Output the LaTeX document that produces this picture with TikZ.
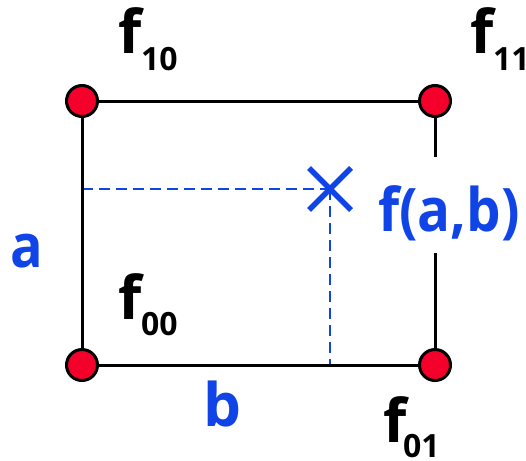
\documentclass[tikz,border=0pt]{standalone}
\usepackage{fontspec}
\setmainfont{Open Sans}
\usetikzlibrary{calc}
\definecolor{ptblue}{RGB}{16,68,230}
\definecolor{ptred}{RGB}{245,0,42}
\begin{document}
\begin{tikzpicture}[x=1pt,y=-1pt,
  corner/.style={circle,draw=black,fill=ptred,line width=3pt,minimum size=31pt,inner sep=0pt},
  edge/.style={line width=3pt,black},
  guide/.style={ptblue,line width=2.4pt,dash pattern=on 11pt off 6pt},
  big/.style={anchor=base west,inner sep=0pt,font=\fontsize{60}{60}\selectfont\bfseries},
  sub/.style={anchor=base west,inner sep=0pt,font=\fontsize{32}{32}\selectfont\bfseries},
  bluelab/.style={big,text=ptblue}]
\useasboundingbox (0,0) rectangle (526,460);
\coordinate (pt) at (330,189);
\coordinate (gapT) at (435,157);
\coordinate (gapB) at (435,253);
% dashed guides
\draw[guide] (82,189) -- (pt);
\draw[guide] (pt) -- (330,365);
% corners
\node[corner] (c10) at (82,101) {};
\node[corner] (c11) at (435,101) {};
\node[corner] (c00) at (82,365) {};
\node[corner] (c01) at (435,365) {};
% edges
\draw[edge] (c10) -- (c11);
\draw[edge] (c10) -- (c00);
\draw[edge] (c00) -- (c01);
\draw[edge] (c11) -- (gapT);
\draw[edge] (gapB) -- (c01);
% cross
\draw[ptblue,line width=5.5pt] ($(pt)+(-21,-21)$) -- ($(pt)+(21,21)$);
\draw[ptblue,line width=5.5pt] ($(pt)+(-21,21)$) -- ($(pt)+(21,-21)$);
% labels
\node[big] (f10) at (118,53) {f};
\node[sub] (s10) at (141,70) {10};
\node[big] (f11) at (470,53) {f};
\node[sub] (s11) at (493,70) {11};
\node[big] (f00) at (118,319) {f};
\node[sub] (s00) at (141,335) {00};
\node[big] (f01) at (383,442) {f};
\node[sub] (s01) at (403,457) {01};
\node[bluelab] (fab) at (378,231) {\scalebox{0.91}[1]{f(a,b)}};
\node[bluelab] (la) at (10,267) {\scalebox{0.9}[1]{a}};
\node[bluelab] (lb) at (203,426) {b};
\end{tikzpicture}
\end{document}
